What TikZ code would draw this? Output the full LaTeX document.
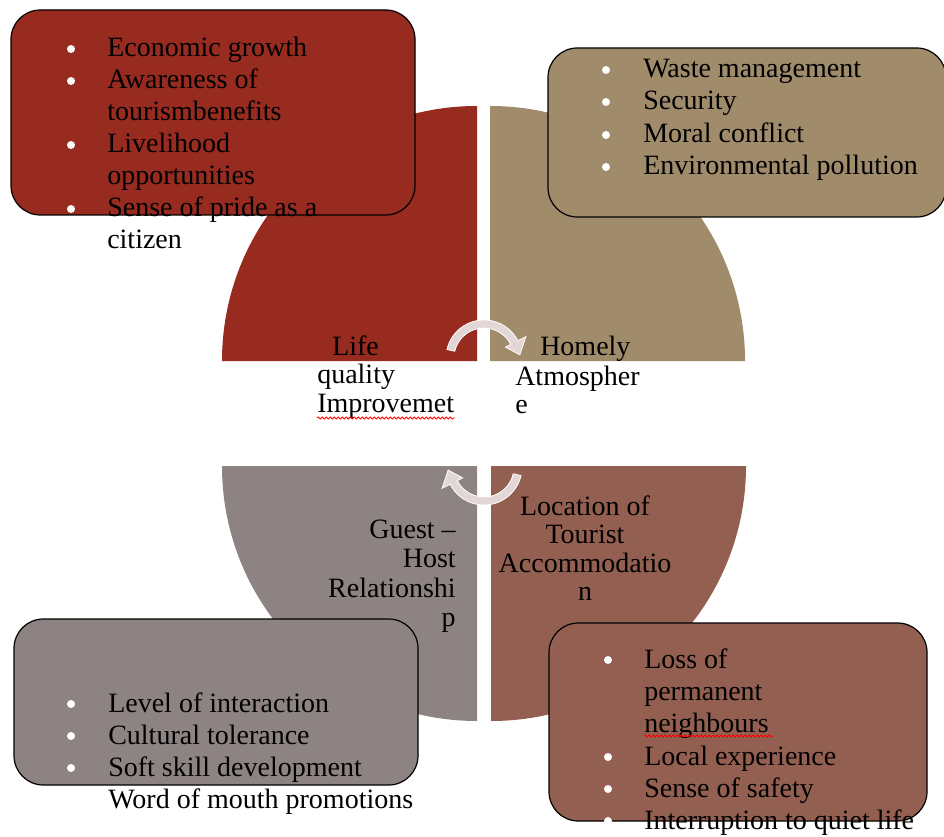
\documentclass[tikz,border=0pt]{standalone}
\usepackage{fontspec}
\setmainfont{Liberation Serif}
\usetikzlibrary{calc,decorations.pathmorphing}
\definecolor{qred}{HTML}{982B20}
\definecolor{qkhaki}{HTML}{A08B6B}
\definecolor{qgray}{HTML}{8E8383}
\definecolor{qbrown}{HTML}{935F50}
\definecolor{arrowfill}{HTML}{E2D6D6}
\begin{document}
\begin{tikzpicture}[x=0.75pt,y=-0.75pt,
  txt/.style={font=\fontsize{21}{24}\selectfont, inner sep=0pt, anchor=base west, text=black},
  txtr/.style={txt, anchor=base east},
  txtc/.style={txt, anchor=base},
  bul/.style={circle, fill=white, inner sep=0pt, minimum size=6pt},
  box/.style={draw=black, line width=0.9pt, rounded corners=22pt},
  cyc/.style={fill=arrowfill, draw=white, line width=0.6pt},
  spell/.style={draw=red, line width=0.6pt, decorate, decoration={snake, amplitude=0.8pt, segment length=3pt}}
]
\useasboundingbox (0,0) rectangle (944,837);

% quarter circles
\fill[qred] (477,361) -- (222,361) arc[start angle=180,end angle=270,radius=255] -- cycle;
\fill[qkhaki] (490,361) -- (745,361) arc[start angle=0,end angle=-90,radius=255] -- cycle;
\fill[qgray] (477,466) -- (222,466) arc[start angle=180,end angle=90,radius=255] -- cycle;
\fill[qbrown] (491,466) -- (746,466) arc[start angle=0,end angle=90,radius=255] -- cycle;

% circular arrows
\coordinate (c1) at (484,358);
\coordinate (c2) at (484,467);
\path[cyc] ($(c1)+(-167:38)$) arc[start angle=-167,end angle=-27,radius=38]
  -- ($(c1)+(-27:47)$) -- ($(c1)+(-5:36)$) -- ($(c1)+(-27:24)$)
  -- ($(c1)+(-27:30)$) arc[start angle=-27,end angle=-167,radius=30] -- cycle;
\path[cyc] ($(c2)+(13:38)$) arc[start angle=13,end angle=153,radius=38]
  -- ($(c2)+(153:47)$) -- ($(c2)+(175:36)$) -- ($(c2)+(153:24)$)
  -- ($(c2)+(153:30)$) arc[start angle=153,end angle=13,radius=30] -- cycle;

% boxes
\path[box, fill=qred] (11,10) rectangle (415,215);
\path[box, fill=qkhaki] (548,48) rectangle (946,217);
\path[box, fill=qgray] (14,619) rectangle (418,785);
\path[box, fill=qbrown] (549,623) rectangle (927,821);

% top-left list
\node[bul] (b11) at (71,49) {};
\node[bul] (b12) at (71,81) {};
\node[bul] (b13) at (71,145) {};
\node[bul] (b14) at (71,209) {};
\node[txt] (t11) at (107,57) {Economic growth};
\node[txt] (t12) at (107,89) {Awareness of};
\node[txt] (t13) at (107,121) {tourismbenefits};
\node[txt] (t14) at (107,153) {Livelihood};
\node[txt] (t15) at (107,185) {opportunities};
\node[txt] (t16) at (107,217) {Sense of pride as a};
\node[txt] (t17) at (107,249) {citizen};

% top-right list
\node[bul] (b21) at (606,70) {};
\node[bul] (b22) at (606,102) {};
\node[bul] (b23) at (606,135) {};
\node[bul] (b24) at (606,167) {};
\node[txt] (t21) at (643,78) {Waste management};
\node[txt] (t22) at (643,110) {Security};
\node[txt] (t23) at (643,143) {Moral conflict};
\node[txt] (t24) at (643,175) {Environmental pollution};

% bottom-left list
\node[bul] (b31) at (71,704) {};
\node[bul] (b32) at (71,736) {};
\node[bul] (b33) at (71,768) {};
\node[txt] (t31) at (108,712) {Level of interaction};
\node[txt] (t32) at (108,744) {Cultural tolerance};
\node[txt] (t33) at (108,776) {Soft skill development};
\node[txt] (t34) at (108,808) {Word of mouth promotions};

% bottom-right list
\node[bul] (b41) at (608,660) {};
\node[bul] (b42) at (608,757) {};
\node[bul] (b43) at (608,789) {};
\node[bul] (b44) at (608,821) {};
\node[txt] (t41) at (644,668) {Loss of};
\node[txt] (t42) at (644,700) {permanent};
\node[txt] (t43) at (644,732) {neighbours};
\node[txt] (t44) at (644,765) {Local experience};
\node[txt] (t45) at (644,797) {Sense of safety};
\node[txt] (t46) at (644,829) {Interruption to quiet life};

% quarter labels
\node[txt] (l11) at (332,355) {Life};
\node[txt] (l12) at (317,383) {quality};
\node[txt] (l13) at (317,412) {Improvemet};
\node[txt] (l21) at (540,355) {Homely};
\node[txt] (l22) at (515,385) {Atmospher};
\node[txt] (l23) at (515,413) {e};
\node[txtr] (l31) at (456,538) {Guest –};
\node[txtr] (l32) at (456,567) {Host};
\node[txtr] (l33) at (456,597) {Relationshi};
\node[txtr] (l34) at (456,626) {p};
\node[txtc] (l41) at (585,515) {Location of};
\node[txtc] (l42) at (585,543) {Tourist};
\node[txtc] (l43) at (585,572) {Accommodatio};
\node[txtc] (l44) at (585,600) {n};

% spell-check underlines
\draw[spell] (317,418) -- (455,418);
\draw[spell] (644,736) -- (773,736);
\end{tikzpicture}
\end{document}
